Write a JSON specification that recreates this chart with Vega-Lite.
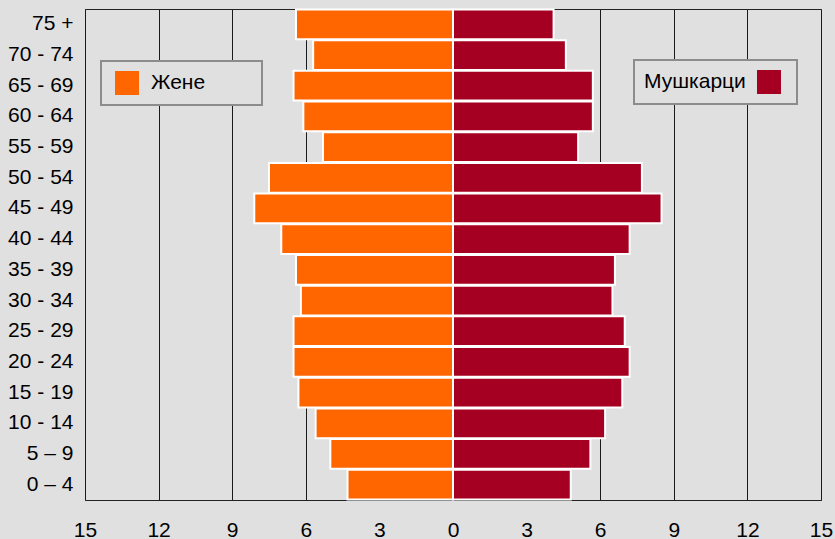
{
  "$schema": "https://vega.github.io/schema/vega-lite/v6.json",
  "width": 736,
  "height": 491,
  "autosize": {"type": "none"},
  "padding": {"left": 85, "top": 9, "right": 14, "bottom": 39},
  "background": "#e0e0e0",
  "data": {
    "values": [
      {"age": "75 +", "sex": "Жене", "value": 6.4},
      {"age": "70 - 74", "sex": "Жене", "value": 5.7},
      {"age": "65 - 69", "sex": "Жене", "value": 6.5},
      {"age": "60 - 64", "sex": "Жене", "value": 6.1},
      {"age": "55 - 59", "sex": "Жене", "value": 5.3},
      {"age": "50 - 54", "sex": "Жене", "value": 7.5},
      {"age": "45 - 49", "sex": "Жене", "value": 8.1},
      {"age": "40 - 44", "sex": "Жене", "value": 7.0},
      {"age": "35 - 39", "sex": "Жене", "value": 6.4},
      {"age": "30 - 34", "sex": "Жене", "value": 6.2},
      {"age": "25 - 29", "sex": "Жене", "value": 6.5},
      {"age": "20 - 24", "sex": "Жене", "value": 6.5},
      {"age": "15 - 19", "sex": "Жене", "value": 6.3},
      {"age": "10 - 14", "sex": "Жене", "value": 5.6},
      {"age": "5 – 9", "sex": "Жене", "value": 5.0},
      {"age": "0 – 4", "sex": "Жене", "value": 4.3},
      {"age": "75 +", "sex": "Мушкарци", "value": 4.1},
      {"age": "70 - 74", "sex": "Мушкарци", "value": 4.6},
      {"age": "65 - 69", "sex": "Мушкарци", "value": 5.7},
      {"age": "60 - 64", "sex": "Мушкарци", "value": 5.7},
      {"age": "55 - 59", "sex": "Мушкарци", "value": 5.1},
      {"age": "50 - 54", "sex": "Мушкарци", "value": 7.7},
      {"age": "45 - 49", "sex": "Мушкарци", "value": 8.5},
      {"age": "40 - 44", "sex": "Мушкарци", "value": 7.2},
      {"age": "35 - 39", "sex": "Мушкарци", "value": 6.6},
      {"age": "30 - 34", "sex": "Мушкарци", "value": 6.5},
      {"age": "25 - 29", "sex": "Мушкарци", "value": 7.0},
      {"age": "20 - 24", "sex": "Мушкарци", "value": 7.2},
      {"age": "15 - 19", "sex": "Мушкарци", "value": 6.9},
      {"age": "10 - 14", "sex": "Мушкарци", "value": 6.2},
      {"age": "5 – 9", "sex": "Мушкарци", "value": 5.6},
      {"age": "0 – 4", "sex": "Мушкарци", "value": 4.8}
    ]
  },
  "transform": [
    {"calculate": "datum.sex === 'Жене' ? -datum.value : datum.value", "as": "signed"}
  ],
  "encoding": {
    "y": {
      "field": "age",
      "type": "nominal",
      "sort": ["75 +", "70 - 74", "65 - 69", "60 - 64", "55 - 59", "50 - 54", "45 - 49", "40 - 44", "35 - 39", "30 - 34", "25 - 29", "20 - 24", "15 - 19", "10 - 14", "5 – 9", "0 – 4"],
      "scale": {"paddingInner": 0.03, "paddingOuter": 0.015},
      "axis": {
        "title": null,
        "ticks": false,
        "domain": false,
        "grid": false,
        "labelPadding": 12,
        "labelFontSize": 21,
        "labelFont": "Liberation Sans",
        "labelColor": "#000000"
      }
    },
    "x": {
      "field": "signed",
      "type": "quantitative",
      "scale": {"domain": [-15, 15], "nice": false, "zero": false},
      "axis": {
        "title": null,
        "values": [-15, -12, -9, -6, -3, 0, 3, 6, 9, 12, 15],
        "labelExpr": "abs(datum.value)",
        "ticks": false,
        "domain": false,
        "grid": true,
        "gridColor": "#1a1a1a",
        "gridWidth": 1,
        "gridOpacity": 1,
        "labelPadding": 19,
        "labelFontSize": 21,
        "labelFont": "Liberation Sans",
        "labelColor": "#000000",
        "labelFlush": false
      }
    }
  },
  "layer": [
    {
      "transform": [{"filter": "datum.sex === 'Жене'"}],
      "mark": {"type": "bar", "stroke": "#ffffff", "strokeWidth": 2},
      "encoding": {
        "color": {
          "field": "sex",
          "type": "nominal",
          "scale": {"domain": ["Жене"], "range": ["#ff6600"]},
          "legend": {
            "orient": "none",
            "legendX": 16,
            "legendY": 52,
            "title": null,
            "symbolType": "M-1,-1H1V1H-1Z M10.4,0",
            "symbolOffset": 4,
            "labelOffset": 12
          }
        }
      }
    },
    {
      "transform": [{"filter": "datum.sex === 'Мушкарци'"}],
      "mark": {"type": "bar", "stroke": "#ffffff", "strokeWidth": 2},
      "encoding": {
        "color": {
          "field": "sex",
          "type": "nominal",
          "scale": {"domain": ["Мушкарци"], "range": ["#a50021"]},
          "legend": {
            "orient": "none",
            "legendX": 549,
            "legendY": 51,
            "title": null,
            "symbolType": "M-1,-1H1V1H-1Z M1.42,0",
            "symbolOffset": 113,
            "labelOffset": -137
          }
        }
      }
    }
  ],
  "resolve": {"scale": {"color": "independent"}},
  "config": {
    "view": {"stroke": "#222222", "strokeWidth": 1},
    "legend": {
      "labelFont": "Liberation Sans",
      "labelFontSize": 21,
      "labelColor": "#000000",
      "symbolSize": 576,
      "symbolStrokeWidth": 0,
      "symbolOpacity": 1,
      "padding": 10,
      "fillColor": "#e0e0e0",
      "strokeColor": "#8c8c8c",
      "strokeWidth": 2
    }
  }
}
